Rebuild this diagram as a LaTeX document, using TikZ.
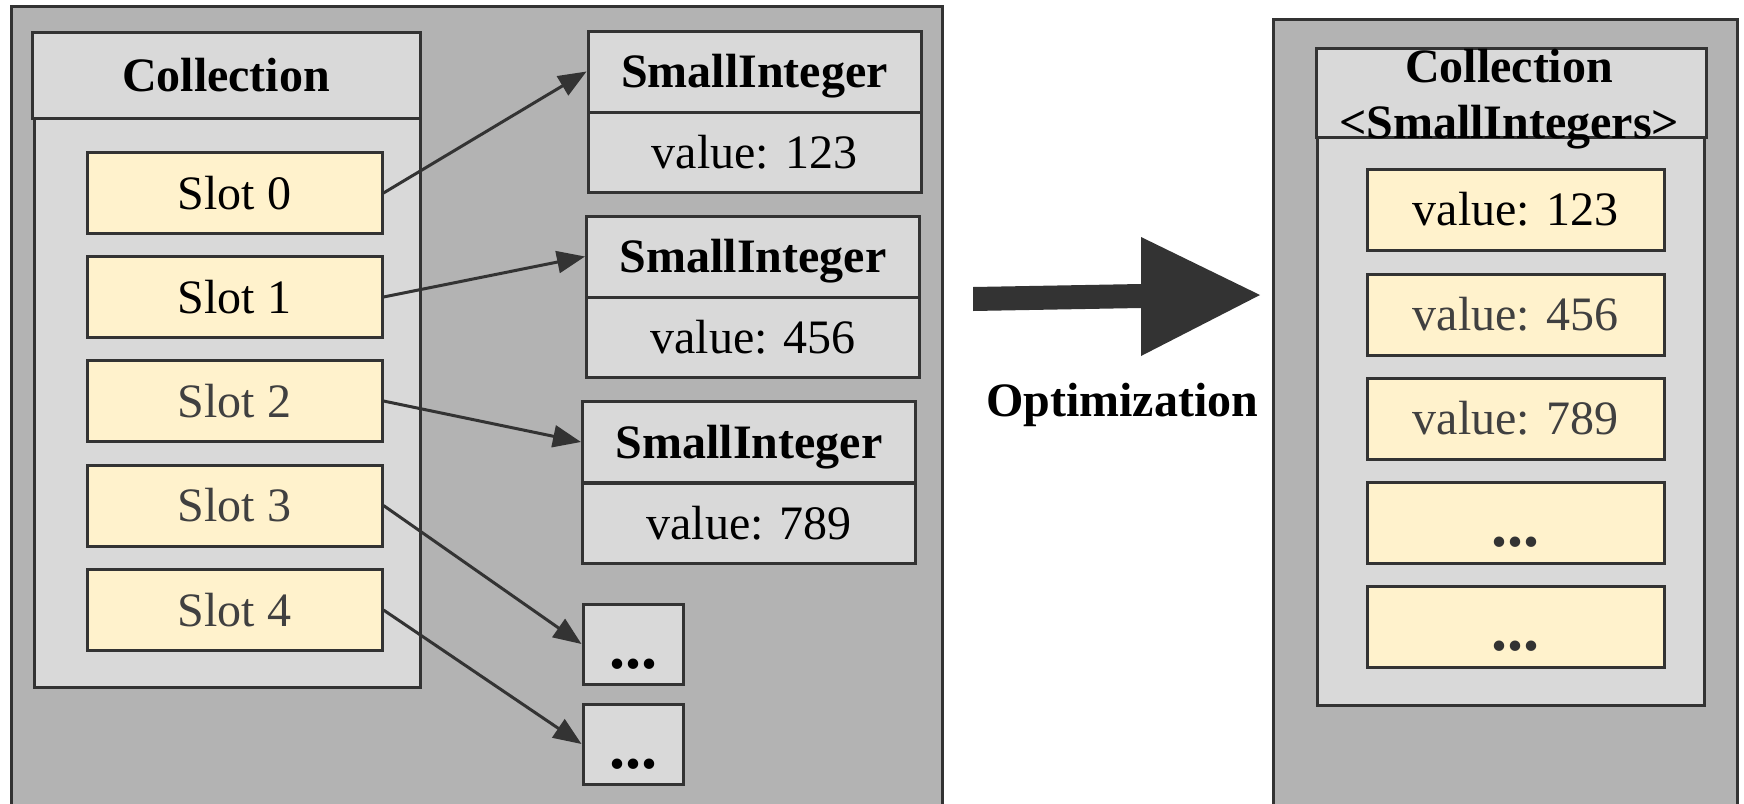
\documentclass[tikz,border=0pt]{standalone}
\usepackage{fontspec}
\setmainfont{Liberation Serif}
\usetikzlibrary{arrows.meta}
\definecolor{edge}{HTML}{333333}
\definecolor{panelgray}{HTML}{B3B3B3}
\definecolor{boxgray}{HTML}{D9D9D9}
\definecolor{slotyellow}{HTML}{FFF2CC}
\definecolor{softtext}{HTML}{404040}
\tikzset{
  panel/.style={draw=edge, fill=panelgray, line width=3pt},
  box/.style={draw=edge, line width=3pt, rectangle, inner sep=0pt,
    font=\fontsize{48}{56}\selectfont, text height=32pt, text depth=0pt},
  graybox/.style={box, fill=boxgray},
  slotbox/.style={box, fill=slotyellow, minimum width=295pt, minimum height=81pt},
  valbox/.style={box, fill=slotyellow, minimum width=297pt, minimum height=81pt},
  sihead/.style={graybox, minimum width=333pt, minimum height=81pt, font=\fontsize{48}{56}\selectfont\bfseries},
  sival/.style={graybox, minimum width=333pt, minimum height=80pt},
  dotbox/.style={graybox, minimum width=100pt, minimum height=80pt,
    font=\fontsize{64}{70}\selectfont\bfseries, text height=48pt},
  dotval/.style={valbox, font=\fontsize{64}{70}\selectfont\bfseries, text height=48pt, text=edge},
  ptr/.style={draw=edge, line width=3pt, -{Triangle[length=28pt,width=22pt]}},
  title/.style={inner sep=0pt, font=\fontsize{48}{56}\selectfont\bfseries},
}
\begin{document}
\begin{tikzpicture}[x=1pt, y=-1pt]
\useasboundingbox (0,0) rectangle (1744,803);

% outer memory panels
\path[panel] (11,6) rectangle (942,830);
\path[panel] (1273,19) rectangle (1737,830);

% boxed collection with pointer slots
\node[graybox, minimum width=386pt, minimum height=569pt] (lbody) at (227,402.5) {};
\node[graybox, minimum width=388pt, minimum height=86pt, font=\fontsize{48}{56}\selectfont\bfseries] (lhead) at (226,75) {Collection};

\node[slotbox] (s0) at (234.5,193) {Slot 0};
\node[slotbox] (s1) at (234.5,297) {Slot 1};
\node[slotbox, text=softtext] (s2) at (234.5,401) {Slot 2};
\node[slotbox, text=softtext] (s3) at (234.5,505.5) {Slot 3};
\node[slotbox, text=softtext] (s4) at (234.5,610) {Slot 4};

% boxed integer objects
\node[sihead] (h1) at (754.5,71.5) {SmallInteger};
\node[sival]  (v1) at (754.5,152) {value: 123};
\node[sihead] (h2) at (753,256.5) {SmallInteger};
\node[sival]  (v2) at (753,337) {value: 456};
\node[sihead] (h3) at (749,442) {SmallInteger};
\node[sival]  (v3) at (749,523) {value: 789};
\node[dotbox] (d1) at (633,644) {...\hspace{12pt}};
\node[dotbox] (d2) at (633,744) {...\hspace{12pt}};

% pointers from slots to objects
\draw[ptr] (s0.east) -- (h1.west);
\draw[ptr] (s1.east) -- (h2.west);
\draw[ptr] (s2.east) -- (h3.west);
\draw[ptr] (s3.east) -- (d1.west);
\draw[ptr] (s4.east) -- (d2.west);

% transformation arrow
\fill[edge] (973,287) -- (1141,284) -- (1141,237) -- (1260,295) -- (1141,356)
  -- (1141,308) -- (973,311) -- cycle;
\node[title, anchor=base] (opt) at (1122,416) {Optimization};

% unboxed collection with inline values
\node[graybox, minimum width=387pt, minimum height=568pt] (rbody) at (1510.5,421) {};
\node[graybox, minimum width=390pt, minimum height=89pt] (rhead) at (1511,92.5) {};
\node[title, anchor=base] (rt1) at (1509,82) {Collection};
\node[title, anchor=base] (rt2) at (1509,138) {\textless SmallIntegers\textgreater};

\node[valbox] (r0) at (1515.5,209.5) {value: 123};
\node[valbox, text=softtext] (r1) at (1515.5,314.5) {value: 456};
\node[valbox, text=softtext] (r2) at (1515.5,418.5) {value: 789};
\node[dotval] (r3) at (1515.5,522.5) {...};
\node[dotval] (r4) at (1515.5,626.5) {...};
\end{tikzpicture}
\end{document}
